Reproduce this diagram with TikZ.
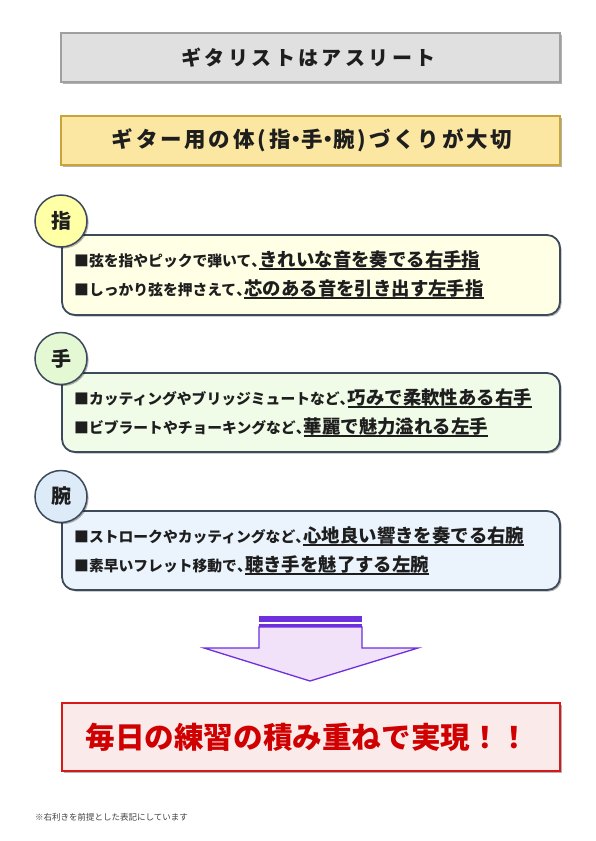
\documentclass[tikz,border=0pt]{standalone}
\usepackage{fontspec}
\setmainfont{Noto Sans CJK JP}
\usetikzlibrary{shadows}
\definecolor{grayfill}{HTML}{E0E0E0}
\definecolor{grayline}{HTML}{A0A0A0}
\definecolor{yelfill}{HTML}{FBE6A2}
\definecolor{yelline}{HTML}{C8A53A}
\definecolor{frame}{HTML}{3D4A5C}
\definecolor{cA}{HTML}{FFFFA6}
\definecolor{bA}{HTML}{FFFFE6}
\definecolor{cB}{HTML}{E3F8D3}
\definecolor{bB}{HTML}{F0FBE8}
\definecolor{cC}{HTML}{DDEAF8}
\definecolor{bC}{HTML}{EBF4FD}
\definecolor{redfill}{HTML}{FBEAEA}
\definecolor{redline}{HTML}{D61A1A}
\definecolor{redtext}{HTML}{D00000}
\definecolor{purp}{HTML}{6E2FDC}
\definecolor{purpfill}{HTML}{F1E2FA}
\definecolor{txt}{HTML}{1E1E1E}
\newcommand\ulx[1]{\setbox0\hbox{#1}\rlap{\copy0}\rule[-3.6pt]{\wd0}{1.2pt}}
\newcommand\cmx{\makebox[0.55em][l]{、}}
\newcommand\dotx{\makebox[0.5em][c]{\hss・\hss}}
\tikzset{
  shad/.style={drop shadow={shadow xshift=1.6pt,shadow yshift=-1.6pt,opacity=0.3,fill=black}},
  titlebox/.style={shad,line width=1.2pt},
  secbox/.style={shad,draw=frame,line width=1.8pt,rounded corners=13pt},
  seccirc/.style={shad,circle,draw=frame,line width=1.5pt,minimum size=52pt,inner sep=0pt,
    font=\fontsize{20}{20}\selectfont\bfseries,text=txt},
  line/.style={anchor=base west,inner sep=0pt,text=txt},
}
\newcommand\sm{\fontsize{14.8}{15}\selectfont\bfseries}
\newcommand\bg{\fontsize{18.4}{18}\selectfont\bfseries}
\begin{document}
\begin{tikzpicture}[x=1pt,y=-1pt]
\useasboundingbox[fill=white] (0,0) rectangle (595,841);
% titles
\draw[titlebox,fill=grayfill,draw=grayline] (61,33) rectangle (560,82);
\node[text=txt,font=\fontsize{20}{20}\selectfont\bfseries\addfontfeatures{LetterSpace=17}] (t1) at (308.5,57.5) {ギタリストはアスリート};
\draw[titlebox,fill=yelfill,draw=yelline] (61,116) rectangle (560,165);
\node[text=txt,font=\fontsize{21.5}{22}\selectfont\bfseries\addfontfeatures{LetterSpace=13}] (t2) at (312,140.5) {ギター用の体(指\dotx 手\dotx 腕)づくりが大切};
% section 1
\draw[secbox,fill=bA] (62,235) rectangle (560,315);
\node[seccirc,fill=cA] (c1) at (61,221) {指};
\node[line] (l1a) at (74,266) {\sm ■弦を指やピックで弾いて\cmx\bg\ulx{きれいな音を奏でる右手指}};
\node[line] (l1b) at (74,295) {\sm ■しっかり弦を押さえて\cmx\bg\ulx{芯のある音を引き出す左手指}};
% section 2
\draw[secbox,fill=bB] (62,373) rectangle (560,452);
\node[seccirc,fill=cB] (c2) at (61,358.5) {手};
\node[line] (l2a) at (74,404) {\sm ■カッティングやブリッジミュートなど\cmx\bg\ulx{巧みで柔軟性ある右手}};
\node[line] (l2b) at (74,433) {\sm ■ビブラートやチョーキングなど\cmx\bg\ulx{華麗で魅力溢れる左手}};
% section 3
\draw[secbox,fill=bC] (62,511) rectangle (560,590);
\node[seccirc,fill=cC] (c3) at (61,496.5) {腕};
\node[line] (l3a) at (74,542) {\sm ■ストロークやカッティングなど\cmx\bg\ulx{心地良い響きを奏でる右腕}};
\node[line] (l3b) at (74,571) {\sm ■素早いフレット移動で\cmx\bg\ulx{聴き手を魅了する左腕}};
% arrow
\fill[purp] (258.5,616) rectangle (362,621.5);
\fill[purp] (258.5,624) rectangle (362,626.8);
\draw[purp,fill=purpfill,line width=1.3pt,line join=miter] (259,627) -- (259,648) -- (204,648) -- (310,681) -- (418,648) -- (362,648) -- (362,627) -- cycle;
% bottom
\draw[titlebox,fill=redfill,draw=redline] (62,703) rectangle (560,771);
\node[text=redtext,font=\fontsize{29.6}{30}\selectfont\bfseries] (res) at (307.5,737.5) {毎日の練習の積み重ねで実現！！};
% footnote
\node[anchor=base west,inner sep=0pt,text=black!75,font=\fontsize{8.5}{9}\selectfont] (fn) at (35,820) {※右利きを前提とした表記にしています};
\end{tikzpicture}
\end{document}
